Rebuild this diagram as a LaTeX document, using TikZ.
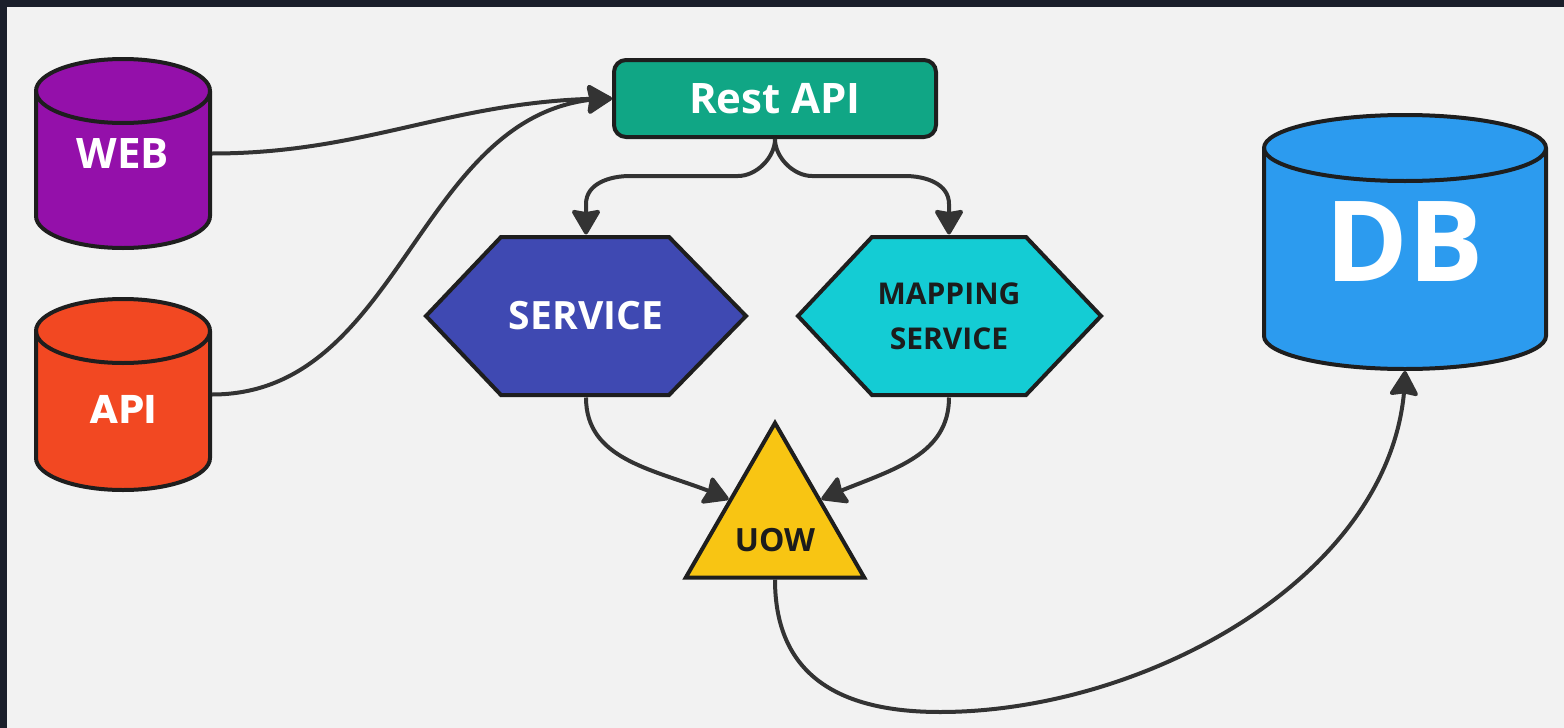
\documentclass[tikz,border=0pt]{standalone}
\usepackage{fontspec}
\setmainfont{Open Sans}
\newfontfamily\popf{Poppins}
\usetikzlibrary{arrows.meta,shapes.geometric,bending}
\definecolor{bgc}{HTML}{F2F2F2}
\definecolor{darkc}{HTML}{1B1F2B}
\definecolor{outl}{HTML}{1E1E1E}
\definecolor{arrc}{HTML}{333333}
\definecolor{webc}{HTML}{9410AA}
\definecolor{apic}{HTML}{F24822}
\definecolor{dbc}{HTML}{2C9BEF}
\definecolor{restc}{HTML}{10A685}
\definecolor{svcc}{HTML}{3F49B2}
\definecolor{mapc}{HTML}{14CCD4}
\definecolor{uowc}{HTML}{F8C513}
\definecolor{txtd}{HTML}{1C1C1C}
\newcommand\cylshape[6]{%
  \filldraw[shapeline, fill=#6] (#1-#4,#2) -- (#1-#4,#3)
    arc[start angle=180,end angle=360,x radius=#4,y radius=#5]
    -- (#1+#4,#2)
    arc[start angle=0,end angle=180,x radius=#4,y radius=#5] -- cycle;
  \draw[shapeline] (#1-#4,#2) arc[start angle=180,end angle=360,x radius=#4,y radius=#5];
}
\tikzset{
  shapeline/.style={draw=outl, line width=4pt},
  conn/.style={draw=arrc, line width=4pt,
    -{Stealth[length=27pt,width=31pt,inset=2.5pt,round]}},
  boxnode/.style={inner sep=0pt, outer sep=0pt},
  bigtxt/.style={text=white, font=\bfseries\fontsize{42}{50}\selectfont},
}
\begin{document}
\begin{tikzpicture}[x=1pt,y=1pt]
\useasboundingbox (0,0) rectangle (1564,-728);
\fill[bgc] (0,0) rectangle (1564,-728);
\fill[darkc] (0,0) rectangle (1564,-7);
\fill[darkc] (0,0) rectangle (7,-728);

% cylinders
\cylshape{123}{-91}{-216}{87}{32}{webc}
\cylshape{123}{-331}{-458}{87}{32}{apic}
\cylshape{1405}{-148}{-336}{141}{33}{dbc}

\node[boxnode, minimum width=178pt, minimum height=193pt, bigtxt] (web) at (123,-153.5) {WEB};
\node[boxnode, minimum width=178pt, minimum height=195pt,
      label={[text=white, font=\popf\bfseries\fontsize{40}{48}\selectfont, yshift=-14.5pt]center:API}] (api) at (123,-394.5) {};
\node[boxnode, minimum width=286pt, minimum height=258pt, text=white,
      font=\bfseries\fontsize{112}{120}\selectfont] (db) at (1405,-242) {DB};

% rest api
\node[shapeline, fill=restc, rounded corners=12pt, minimum width=322pt, minimum height=77pt,
      inner sep=0pt, outer sep=2pt, bigtxt] (rest) at (775,-98.5) {Rest API};

% hexagons
\filldraw[shapeline, fill=svcc] (426,-316) -- (501,-237) -- (669,-237) -- (746,-316)
  -- (669,-395) -- (501,-395) -- cycle;
\node[boxnode, minimum width=324pt, minimum height=163pt, text=white,
      font=\bfseries\fontsize{39}{46}\selectfont] (service) at (586,-316) {SERVICE};
\filldraw[shapeline, fill=mapc] (798,-316) -- (872,-237) -- (1026,-237) -- (1101,-316)
  -- (1026,-395) -- (872,-395) -- cycle;
\node[boxnode, minimum width=306pt, minimum height=163pt, text=txtd, align=center,
      font=\bfseries\fontsize{30}{45}\selectfont] (mapping) at (949,-316) {MAPPING\\SERVICE};

% triangle
\node[regular polygon, regular polygon sides=3, minimum size=206pt, inner sep=0pt,
      shapeline, fill=uowc,
      label={[text=txtd, font=\bfseries\fontsize{32}{38}\selectfont, yshift=-14pt]center:UOW}]
      (uow) at (775,-526) {};

% connectors
\draw[conn] (web.east) to[out=0,in=180] (rest.west);
\draw[conn] (api.east) to[out=0,in=180] (rest.west);
\draw[conn] (rest.south) to[out=-90,in=0,looseness=0.9] (738,-176) -- (630,-176)
  to[out=180,in=90] (586,-204) -- (service.north);
\draw[conn] (rest.south) to[out=-90,in=180,looseness=0.9] (812,-176) -- (905,-176)
  to[out=0,in=90] (949,-204) -- (mapping.north);
\draw[conn] (service.south) to[out=-90,in=155] (uow.side 1);
\draw[conn] (mapping.south) to[out=-90,in=25] (uow.side 3);
\draw[conn] (uow.south) .. controls (775,-660) and (820,-712) .. (940,-712)
  .. controls (1150,-712) and (1405,-570) .. (db.south);
\end{tikzpicture}
\end{document}
